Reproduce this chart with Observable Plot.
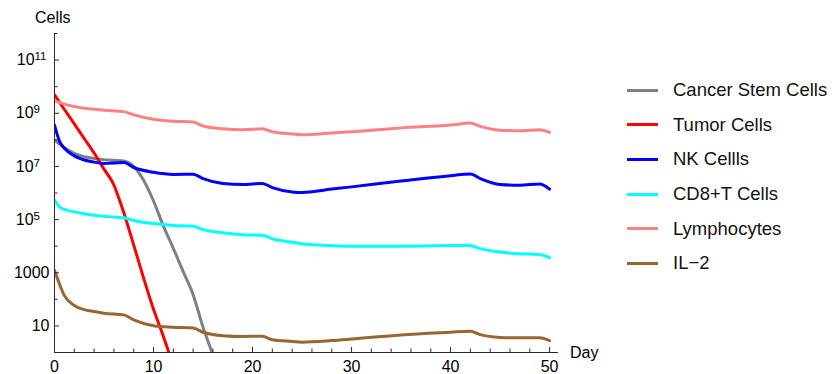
<!DOCTYPE html>
<html><head><meta charset="utf-8">
<script src="https://cdn.jsdelivr.net/npm/d3@7"></script>
<script src="https://cdn.jsdelivr.net/npm/@observablehq/plot@0.6"></script>
<style>
body{margin:0;background:#fff;font-family:"Liberation Sans",Arial,sans-serif;}
#wrap{position:relative;width:835px;height:374px;overflow:hidden;}
.lab{position:absolute;font-size:16px;color:#000;line-height:1;}
#legend{position:absolute;left:627px;top:73px;}
.item{display:flex;align-items:center;height:34.6px;font-size:18.5px;color:#111;}
.sw{width:31px;height:3px;margin-right:15px;}
</style></head><body><div id="wrap"></div>
<script>
// ---- data ----
const days = [0,0.5,1,2,3,4,5,7,8,10,12,14,15,17,19,21,22,24,25,28,30,35,40,42,43,45,47,49,50];
const lymphocytes = [3.0e9,2.5e9,2.2e9,1.8e9,1.55e9,1.4e9,1.3e9,1.15e9,8.7e8,5.9e8,5.0e8,4.7e8,3.3e8,2.6e8,2.4e8,2.6e8,2.0e8,1.66e8,1.55e8,1.8e8,2.0e8,2.8e8,3.6e8,4.3e8,3.2e8,2.3e8,2.2e8,2.4e8,1.9e8];
const nkCells = [3.6e8,9.0e7,4.8e7,2.5e7,1.75e7,1.45e7,1.3e7,1.4e7,9.1e6,6.0e6,5.0e6,5.1e6,3.5e6,2.3e6,2.1e6,2.3e6,1.6e6,1.1e6,1.05e6,1.4e6,1.7e6,2.8e6,4.5e6,5.2e6,3.5e6,2.1e6,1.95e6,2.2e6,1.4e6];
const cd8Cells = [5.4e5,3.0e5,2.4e5,1.95e5,1.66e5,1.45e5,1.32e5,1.17e5,9.3e4,7.1e4,6.0e4,5.6e4,4.2e4,3.2e4,2.7e4,2.6e4,1.9e4,1.4e4,1.23e4,1.05e4,1.0e4,1.0e4,1.05e4,1.05e4,8.1e3,6.0e3,5.2e3,4.9e3,3.7e3];
const il2 = [1230,380,138,59,41,35,30,26,17,10.2,8.9,8.3,5.8,4.3,4.0,4.1,3.0,2.6,2.45,2.8,3.2,4.6,5.8,6.3,4.7,3.7,3.55,3.6,2.8];
const stemDays = [0,0.5,1,2,3,4,5,7,8,9,10,11,12,13,14,15,15.9,16.2];
const stemCells = [9.8e7,7e7,5e7,3.1e7,2.3e7,2.0e7,1.8e7,1.6e7,1.0e7,3.0e6,5.0e5,5.7e4,8.3e3,1.1e3,150,9,1,0.45];
const tumorDays = [0,1,2,3,4,5,6,6.5,7,8,9,10,11,11.55,11.8];
const tumorCells = [4.9e9,1.38e9,4.0e8,1.12e8,3.2e7,7.9e6,2.0e6,6.3e5,1.8e5,1.1e4,630,42,4,1,0.5];

const seriesNames = ["Cancer Stem Cells","Tumor Cells","NK Cellls","CD8+T Cells","Lymphocytes","IL\u22122"];
const seriesColors = ["#808080","#ff0000","#0000ff","#00ffff","#ff8080","#996633"];
const seriesDays = [stemDays, tumorDays, days, days, days, days];
const seriesValues = [stemCells, tumorCells, nkCells, cd8Cells, lymphocytes, il2];

const xMajor = [0,10,20,30,40,50];
const xMinor = [2,4,6,8,12,14,16,18,22,24,26,28,32,34,36,38,42,44,46,48];
const yMajor = [1e1,1e3,1e5,1e7,1e9,1e11];
const yMajorLabels = ["10","1000","10^5","10^7","10^9","10^11"];
const yMinor = [1e2,1e4,1e6,1e8,1e10,1e12];

// ---- chart ----
const axisColor = "#2a2a2a";
const labelOf = new Map(yMajor.map((v,i)=>[Math.round(Math.log10(v)), yMajorLabels[i]]));
const lineMarks = seriesNames.map((name,k)=>{
  const rows = seriesDays[k].map((d,i)=>({day:d, value:seriesValues[k][i]}));
  return Plot.line(rows, {x:"day", y:"value", stroke:seriesColors[k], strokeWidth:3, curve:"monotone-x", clip:true, strokeLinejoin:"round"});
});

const chart = Plot.plot({
  width: 835, height: 374,
  marginLeft: 54, marginRight: 277, marginTop: 33, marginBottom: 22,
  style: {fontFamily:'"Liberation Sans", Arial, sans-serif', fontSize:"16px", color:"#000", background:"#fff"},
  x: {domain:[0,50.9]},
  y: {type:"log", domain:[1,1e12]},
  marks: [
    ...lineMarks,
    Plot.ruleY([1], {stroke:axisColor}),
    Plot.ruleX([0], {stroke:axisColor}),
    Plot.axisX(xMajor, {tickSize:-5, tickPadding:13.5, stroke:axisColor, label:null, tickFormat:d=>String(d)}),
    Plot.axisX(xMinor, {tickSize:-3.5, stroke:axisColor, label:null, tickFormat:()=>""}),
    Plot.axisY(yMajor, {tickSize:-5, tickPadding:10, stroke:axisColor, label:null, tickFormat:d=>labelOf.get(Math.round(Math.log10(d)))}),
    Plot.axisY(yMinor, {tickSize:-3.5, stroke:axisColor, label:null, tickFormat:()=>""})
  ]
});

// superscript exponents on y tick labels
const NS = "http://www.w3.org/2000/svg";
chart.querySelectorAll('g[aria-label="y-axis tick label"] text').forEach(t=>{
  const s = t.textContent;
  if (s.includes("^")) {
    const [b,e] = s.split("^");
    t.textContent = "";
    const t1 = document.createElementNS(NS,"tspan"); t1.textContent = b;
    const t2 = document.createElementNS(NS,"tspan"); t2.textContent = e;
    t2.setAttribute("font-size","11.5px"); t2.setAttribute("dy","-5");
    t.append(t1,t2);
    t.setAttribute("dx", e.length > 1 ? "-3" : "-9.5");
  }
});

const wrap = document.getElementById("wrap");
wrap.appendChild(chart);
chart.style.position = "absolute"; chart.style.left = "0"; chart.style.top = "0";

const cells = document.createElement("div");
cells.className = "lab"; cells.textContent = "Cells";
cells.style.left = "35px"; cells.style.top = "10px";
wrap.appendChild(cells);
const dayLab = document.createElement("div");
dayLab.className = "lab"; dayLab.textContent = "Day";
dayLab.style.left = "570px"; dayLab.style.top = "345px";
wrap.appendChild(dayLab);

const legend = document.createElement("div");
legend.id = "legend";
seriesNames.forEach((n,k)=>{
  const it = document.createElement("div"); it.className = "item";
  const sw = document.createElement("div"); sw.className = "sw"; sw.style.background = seriesColors[k];
  const tx = document.createElement("span"); tx.textContent = n;
  it.append(sw,tx); legend.appendChild(it);
});
wrap.appendChild(legend);
</script></body></html>
